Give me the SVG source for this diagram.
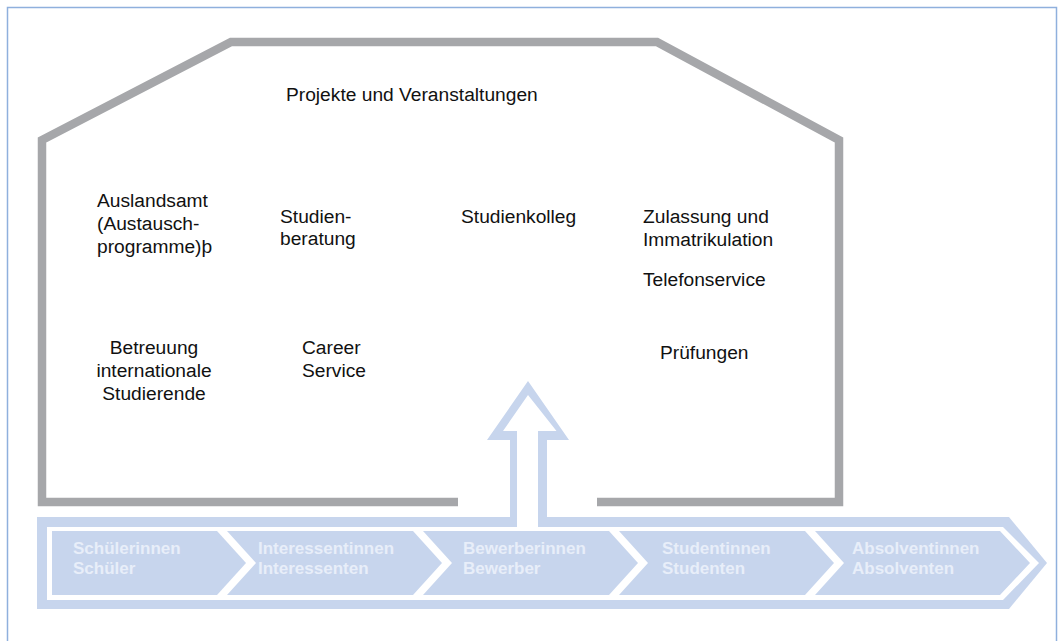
<svg xmlns="http://www.w3.org/2000/svg" width="1064" height="641" viewBox="0 0 1064 641">
<style>
.t{font-family:"Liberation Sans",Arial,sans-serif;font-size:19.2px;fill:#111}
.c{font-family:"Liberation Sans",Arial,sans-serif;font-size:17px;font-weight:bold;fill:#e8eef9}
.lb{fill:#c7d5ed}
.wh{fill:#ffffff}
</style>
<rect x="0" y="0" width="1064" height="641" fill="#ffffff"/>
<rect x="7.5" y="7.5" width="1049" height="660" fill="none" stroke="#8fb0dd" stroke-width="1.5"/>
<g id="house">
<path d="M458,502 H42 V140 L231,42 H657 L839,140 V502 H597" fill="none" stroke="#a6a7aa" stroke-width="8.5" stroke-linejoin="miter"/>
</g>
<g id="connectors">
<polygon class="lb" points="37,517 1009,517 1047,563 1009,609 37,609"/>
<polygon class="lb" points="510,518 510,440 487,440 528,381 569,440 547,440 547,518"/>
<polygon class="wh" points="47,527 1003,527 1039,563 1003,600 47,600"/>
<polygon class="wh" points="517,529 517,431 503,431 528,395 556.5,431 538,431 538,529"/>
</g>
<g id="stage1"><polygon class="lb" points="52,531 217,531 246,563 217,595 52,595"/>
<text class="c" x="73" y="554">Schülerinnen</text><text class="c" x="73" y="574">Schüler</text></g>
<g id="stage2"><polygon class="lb" points="227,531 413,531 442,563 413,595 227,595 256,563"/>
<text class="c" x="258" y="554">Interessentinnen</text><text class="c" x="258" y="574">Interessenten</text></g>
<g id="stage3"><polygon class="lb" points="423,531 609,531 638,563 609,595 423,595 452,563"/>
<text class="c" x="463" y="554">Bewerberinnen</text><text class="c" x="463" y="574">Bewerber</text></g>
<g id="stage4"><polygon class="lb" points="619,531 805,531 834,563 805,595 619,595 648,563"/>
<text class="c" x="662" y="554">Studentinnen</text><text class="c" x="662" y="574">Studenten</text></g>
<g id="stage5"><polygon class="lb" points="815,531 1000,531 1030,563 1000,595 815,595 844,563"/>
<text class="c" x="852" y="554">Absolventinnen</text><text class="c" x="852" y="574">Absolventen</text></g>
<g id="projekte"><text class="t" x="286" y="101">Projekte und Veranstaltungen</text></g>
<g id="auslandsamt"><text class="t" x="97" y="207">Auslandsamt</text><text class="t" x="97" y="230">(Austausch-</text><text class="t" x="97" y="253">programme)þ</text></g>
<g id="studienberatung"><text class="t" x="280" y="223">Studien-</text><text class="t" x="280" y="245">beratung</text></g>
<g id="studienkolleg"><text class="t" x="461" y="223">Studienkolleg</text></g>
<g id="zulassung"><text class="t" x="643" y="223">Zulassung und</text><text class="t" x="643" y="246">Immatrikulation</text></g>
<g id="telefonservice"><text class="t" x="643" y="286">Telefonservice</text></g>
<g id="betreuung" text-anchor="middle"><text class="t" x="154" y="354">Betreuung</text><text class="t" x="154" y="377">internationale</text><text class="t" x="154" y="400">Studierende</text></g>
<g id="career"><text class="t" x="302" y="354">Career</text><text class="t" x="302" y="377">Service</text></g>
<g id="pruefungen"><text class="t" x="660" y="359">Prüfungen</text></g>
</svg>
